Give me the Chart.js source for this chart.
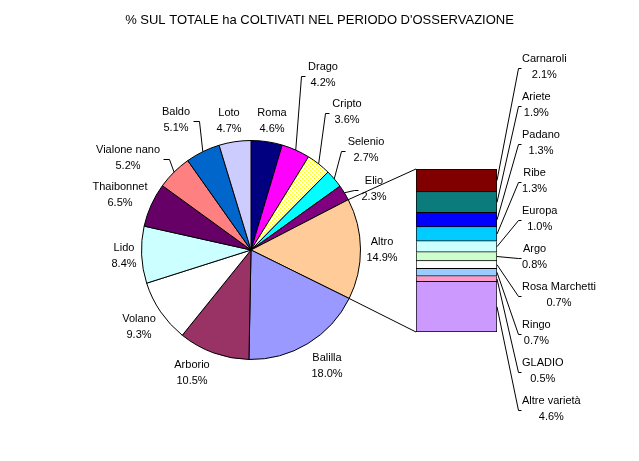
<!DOCTYPE html>
<html>
<head>
<meta charset="utf-8">
<script src="https://cdn.jsdelivr.net/npm/chart.js@4"></script>
<style>
  html, body { margin: 0; padding: 0; background: #fff; }
  #wrap { position: relative; width: 639px; height: 461px; }
  #wrap canvas { position: absolute; left: 0; top: 0; }
</style>
</head>
<body>
<div id="wrap">
  <canvas id="pie" width="639" height="461"></canvas>
  <canvas id="bar" width="639" height="461"></canvas>
</div>
<script>
const chartTitle = "% SUL TOTALE ha COLTIVATI NEL PERIODO D'OSSERVAZIONE";

// pie slices, clockwise from 12 o'clock
const pieLabels = ['Roma', 'Drago', 'Cripto', 'Selenio', 'Elio', 'Altro', 'Balilla', 'Arborio', 'Volano', 'Lido', 'Thaibonnet', 'Vialone nano', 'Baldo', 'Loto'];
const pieValues = [4.6, 4.2, 3.6, 2.7, 2.3, 14.9, 18.0, 10.5, 9.3, 8.4, 6.5, 5.2, 5.1, 4.7];

// what "Altro" is made of, top to bottom
const barLabels = ['Carnaroli', 'Ariete', 'Padano', 'Ribe', 'Europa', 'Argo', 'Rosa Marchetti', 'Ringo', 'GLADIO', 'Altre varietà'];
const barValues = [2.1, 1.9, 1.3, 1.3, 1.0, 0.8, 0.7, 0.7, 0.5, 4.6];

// yellow-dotted fill used for Cripto
function dots() {
  const c = document.createElement('canvas');
  c.width = 4; c.height = 4;
  const g = c.getContext('2d');
  g.fillStyle = '#fff';
  g.fillRect(0, 0, 4, 4);
  g.fillStyle = '#ffff00';
  g.fillRect(0, 0, 1, 1);
  g.fillRect(2, 2, 1, 1);
  return g.createPattern(c, 'repeat');
}

// styling
const pieColors = ['#000080', '#ff00ff', dots(), '#00ffff', '#800080', '#ffcc99', '#9999ff', '#993366', '#ffffff', '#ccffff', '#660066', '#ff8080', '#0066cc', '#ccccff'];
const barColors = ['#800000', '#0b7b7b', '#0000ff', '#00ccff', '#ccffff', '#ccffcc', '#ffffff', '#99ccff', '#ff99cc', '#cc99ff'];
const fontFamily = '"Liberation Sans", Arial, sans-serif';
const labelFont = '11px ' + fontFamily;

// label placement (px from the pie centre), and which labels get a leader line
const pieLabelPos = [[21, -129], [72, -175], [96, -138], [115, -100], [123, -61], [131, 0], [76, 116], [-59, 123], [-112, 77], [-127, 6], [-131, -55], [-123, -92], [-75, -130], [-22, -129]];
const pieLeaders = [false, true, true, true, true, false, false, false, false, false, false, true, true, false];
const barLabelLeft = 522, barLabelTop = 66.5, barLabelStep = 38;

function twoLines(ctx, a, b, cx, cy) {
  ctx.fillText(a, cx, cy - 8);
  ctx.fillText(b, cx, cy + 8);
}

const titlePlugin = {
  id: 'plainTitle',
  afterDraw(chart) {
    const ctx = chart.ctx;
    ctx.save();
    ctx.font = '13px ' + fontFamily;
    ctx.fillStyle = '#000';
    ctx.textAlign = 'center';
    ctx.textBaseline = 'middle';
    ctx.fillText(chartTitle, chart.width / 2, 20);
    ctx.restore();
  }
};

const pieLabelPlugin = {
  id: 'pieLabels',
  afterDatasetsDraw(chart) {
    const ctx = chart.ctx;
    const arcs = chart.getDatasetMeta(0).data;
    ctx.save();
    ctx.font = labelFont;
    ctx.fillStyle = '#000';
    ctx.strokeStyle = '#000';
    ctx.lineWidth = 1;
    ctx.textAlign = 'center';
    ctx.textBaseline = 'middle';
    arcs.forEach((arc, i) => {
      const p = arc.getProps(['x', 'y', 'outerRadius', 'startAngle', 'endAngle'], true);
      const lx = p.x + pieLabelPos[i][0];
      const ly = p.y + pieLabelPos[i][1];
      const t1 = pieLabels[i];
      const t2 = pieValues[i].toFixed(1) + '%';
      const w = Math.max(ctx.measureText(t1).width, ctx.measureText(t2).width);
      twoLines(ctx, t1, t2, lx, ly);
      if (pieLeaders[i]) {
        const mid = (p.startAngle + p.endAngle) / 2;
        const ax = p.x + p.outerRadius * Math.cos(mid);
        const ay = p.y + p.outerRadius * Math.sin(mid);
        const onRight = lx > p.x;
        const kx = onRight ? lx - w / 2 - 7 : lx + w / 2 + 9;
        const tx = onRight ? lx - w / 2 - 3 : lx + w / 2 + 3;
        ctx.beginPath();
        ctx.moveTo(ax, ay);
        ctx.lineTo(Math.round(kx) + 0.5, Math.round(ly) + 1.5);
        ctx.lineTo(Math.round(tx) + 0.5, Math.round(ly) + 1.5);
        ctx.stroke();
      }
    });
    ctx.restore();
  }
};

const pieChart = new Chart(document.getElementById('pie'), {
  type: 'pie',
  data: {
    labels: pieLabels,
    datasets: [{
      data: pieValues,
      backgroundColor: pieColors,
      borderColor: '#000',
      borderWidth: 1
    }]
  },
  options: {
    responsive: false,
    animation: false,
    events: [],
    devicePixelRatio: 1,
    layout: { padding: { left: 141, right: 278, top: 140, bottom: 101 } },
    plugins: { legend: { display: false }, tooltip: { enabled: false } }
  },
  plugins: [titlePlugin, pieLabelPlugin]
});

const barLabelPlugin = {
  id: 'barLabels',
  afterDatasetsDraw(chart) {
    const ctx = chart.ctx;
    ctx.save();
    ctx.font = labelFont;
    ctx.fillStyle = '#000';
    ctx.strokeStyle = '#000';
    ctx.lineWidth = 1;
    ctx.textAlign = 'center';
    ctx.textBaseline = 'middle';
    let barLeft = 0, barTop = 0, barBottom = 0;
    barLabels.forEach((name, i) => {
      const bar = chart.getDatasetMeta(i).data[0].getProps(['x', 'y', 'base', 'width'], true);
      const right = bar.x + bar.width / 2;
      barLeft = bar.x - bar.width / 2;
      if (i === 0) barTop = Math.min(bar.y, bar.base);
      barBottom = Math.max(bar.y, bar.base);
      const segMid = (bar.y + bar.base) / 2;
      const ly = barLabelTop + barLabelStep * i;
      const t2 = barValues[i].toFixed(1) + '%';
      const w = Math.max(ctx.measureText(name).width, ctx.measureText(t2).width);
      twoLines(ctx, name, t2, barLabelLeft + w / 2, ly);
      ctx.beginPath();
      ctx.moveTo(right, segMid);
      ctx.lineTo(barLabelLeft - 3.5, Math.round(ly) + 1.5);
      ctx.lineTo(barLabelLeft - 0.5, Math.round(ly) + 1.5);
      ctx.stroke();
    });
    // connectors from the "Altro" slice to the bar
    const altro = pieChart.getDatasetMeta(0).data[pieLabels.indexOf('Altro')]
      .getProps(['x', 'y', 'outerRadius', 'startAngle', 'endAngle'], true);
    ctx.beginPath();
    ctx.moveTo(altro.x + altro.outerRadius * Math.cos(altro.startAngle), altro.y + altro.outerRadius * Math.sin(altro.startAngle));
    ctx.lineTo(barLeft, barTop);
    ctx.moveTo(altro.x + altro.outerRadius * Math.cos(altro.endAngle), altro.y + altro.outerRadius * Math.sin(altro.endAngle));
    ctx.lineTo(barLeft, barBottom);
    ctx.stroke();
    ctx.restore();
  }
};

const barTotal = barValues.reduce((a, b) => a + b, 0);

new Chart(document.getElementById('bar'), {
  type: 'bar',
  data: {
    labels: ['Altro'],
    datasets: barLabels.map((name, i) => ({
      label: name,
      data: [barValues[i]],
      backgroundColor: barColors[i],
      borderColor: '#000',
      borderWidth: 1,
      borderSkipped: i === 0 ? false : 'start',
      barPercentage: 1,
      categoryPercentage: 1
    }))
  },
  options: {
    responsive: false,
    animation: false,
    events: [],
    devicePixelRatio: 1,
    layout: { padding: { left: 416, right: 142, top: 169, bottom: 129 } },
    plugins: { legend: { display: false }, tooltip: { enabled: false } },
    scales: {
      x: { stacked: true, display: false },
      y: { stacked: true, display: false, reverse: true, min: 0, max: barTotal }
    }
  },
  plugins: [barLabelPlugin]
});
</script>
</body>
</html>
